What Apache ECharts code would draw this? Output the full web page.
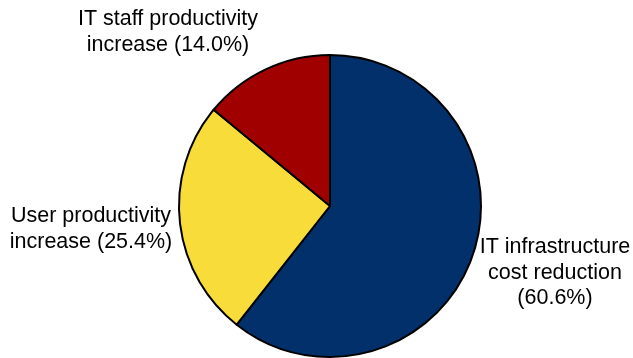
<!DOCTYPE html>
<html>
<head>
<meta charset="utf-8">
<script src="https://cdn.jsdelivr.net/npm/echarts@6/dist/echarts.min.js"></script>
<style>
  html, body { margin: 0; padding: 0; background: #fff; }
  #main { width: 633px; height: 358px; }
</style>
</head>
<body>
<div id="main"></div>
<script>
// slice names (line breaks as in the original) and shares in percent
const categories = [
  'IT infrastructure\ncost reduction\n',
  'User productivity\nincrease ',
  'IT staff productivity\nincrease '
];
const values = [60.6, 25.4, 14.0];
const colors = ['#02306A', '#F8DC3A', '#A10000'];

// where each label sits (centre of the text block)
const labelSpots = [
  { x: 555, y: 273 },
  { x: 91, y: 229 },
  { x: 168, y: 32 }
];

const chart = echarts.init(document.getElementById('main'));

const option = {
  animation: false,
  series: [
    {
      type: 'pie',
      center: [330, 206],
      radius: 151,
      startAngle: 90,
      clockwise: true,
      data: categories.map((name, i) => ({
        name: name,
        value: values[i],
        itemStyle: { color: colors[i] }
      })),
      itemStyle: {
        borderColor: '#000',
        borderWidth: 2
      },
      label: {
        show: true,
        position: 'outside',
        formatter: p => p.name + '(' + p.value.toFixed(1) + '%)',
        fontFamily: 'Liberation Sans, Arial, sans-serif',
        fontSize: 21.5,
        lineHeight: 25.5,
        color: '#000',
        align: 'center',
        overflow: 'none',
        width: 300
      },
      labelLine: { show: false },
      labelLayout: params => ({
        x: labelSpots[params.dataIndex].x,
        y: labelSpots[params.dataIndex].y,
        align: 'center',
        verticalAlign: 'middle'
      }),
      emphasis: { disabled: true }
    }
  ]
};

chart.setOption(option);
</script>
</body>
</html>
